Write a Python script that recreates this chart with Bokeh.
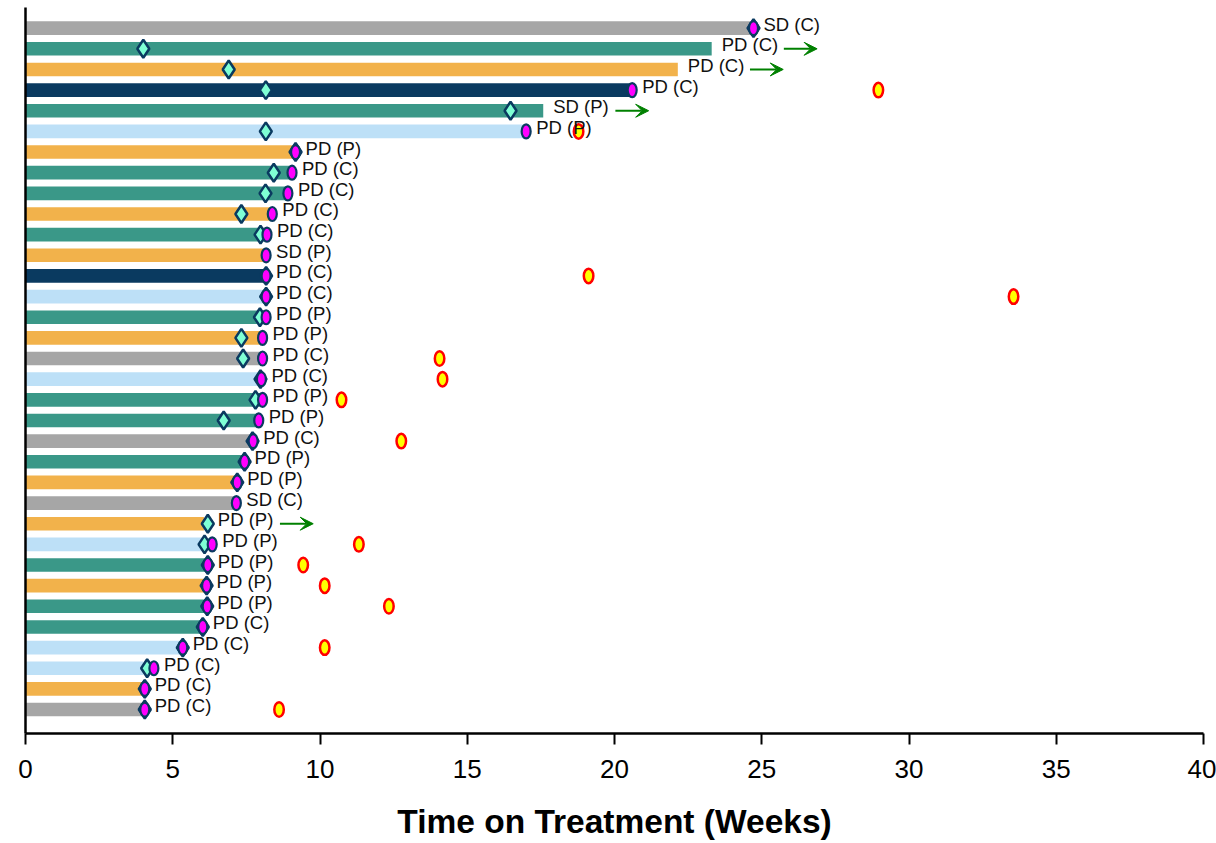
from bokeh.plotting import figure
from bokeh.models import ColumnDataSource, Range1d, Arrow, VeeHead, FixedTicker
from bokeh.core.properties import value
from bokeh.embed import file_html
from bokeh.resources import INLINE

# Swimmer data, one entry per patient, listed top to bottom
cohort = ["G", "T", "O", "N", "T", "L", "O", "T", "T", "O", "T", "O", "N", "L", "T", "O", "G",
          "L", "T", "T", "G", "T", "O", "G", "O", "L", "T", "O", "T", "T", "L", "L", "O", "G"]
weeks_on_treatment = [24.6, 23.3, 22.15, 20.55, 17.58, 16.95, 9.05, 8.95, 8.85, 8.3, 8.1, 8.08,
                      8.1, 8.1, 8.1, 8.0, 8.0, 7.95, 8.0, 7.85, 7.65, 7.35, 7.15, 7.1, 6.06, 6.1,
                      6.15, 6.1, 6.1, 5.95, 5.27, 4.0, 4.0, 3.97]
first_assessment = [24.72, 4.0, 6.9, 8.16, 16.47, 8.16, 9.17, 8.43, 8.15, 7.33, 7.98, None,
                    8.17, 8.17, 7.96, 7.33, 7.39, 7.98, 7.81, 6.73, 7.71, 7.44, 7.19, None, 6.19,
                    6.08, 6.19, 6.15, 6.17, 6.02, 5.34, 4.13, 4.05, 4.05]
discontinuation = [24.72, None, None, 20.6, None, 17.0, 9.17, 9.05, 8.91, 8.38, 8.2, 8.17,
                   8.17, 8.17, 8.17, 8.05, 8.05, 8.01, 8.05, 7.92, 7.73, 7.44, 7.19, 7.16, None,
                   6.34, 6.19, 6.15, 6.17, 6.02, 5.34, 4.36, 4.05, 4.05]
followup_event = [None, None, None, 28.96, None, 18.78, None, None, None, None, None, None,
                  19.12, 33.55, None, None, 14.06, 14.16, 10.73, None, 12.76, None, None, None,
                  None, 11.32, 9.43, 10.16, 12.34, None, 10.16, None, None, 8.61]
best_response = ["SD (C)", "PD (C)", "PD (C)", "PD (C)", "SD (P)", "PD (P)", "PD (P)", "PD (C)",
                 "PD (C)", "PD (C)", "PD (C)", "SD (P)", "PD (C)", "PD (C)", "PD (P)", "PD (P)",
                 "PD (C)", "PD (C)", "PD (P)", "PD (P)", "PD (C)", "PD (P)", "PD (P)", "SD (C)",
                 "PD (P)", "PD (P)", "PD (P)", "PD (P)", "PD (P)", "PD (C)", "PD (C)", "PD (C)",
                 "PD (C)", "PD (C)"]
ongoing = [False, True, True, False, True, False, False, False, False, False, False, False,
           False, False, False, False, False, False, False, False, False, False, False, False,
           True, False, False, False, False, False, False, False, False, False]
x_ticks = [0, 5, 10, 15, 20, 25, 30, 35, 40]

palette = {"G": "#a6a6a6", "T": "#3a9888", "O": "#f2b24b", "N": "#0a3a60", "L": "#bde0f7"}

n = len(cohort)
ys = [n - i for i in range(n)]

p = figure(width=1216, height=843, x_range=Range1d(0, 40), y_range=Range1d(-0.16, 35),
           output_backend="svg", toolbar_location=None,
           min_border_left=25, min_border_right=13, min_border_top=7, min_border_bottom=110)
p.outline_line_color = None
p.xgrid.visible = False
p.ygrid.visible = False
p.background_fill_color = "white"
p.border_fill_color = "white"

# Treatment duration bars
bars = ColumnDataSource(dict(y=ys, right=weeks_on_treatment,
                             color=[palette[c] for c in cohort]))
p.hbar(y="y", left=0, right="right", height=0.66, fill_color="color", line_color=None,
       source=bars)

# First response assessment (diamonds)
dia = ColumnDataSource(dict(x=[v for v in first_assessment if v is not None],
                            y=[y for v, y in zip(first_assessment, ys) if v is not None]))
p.scatter("x", "y", marker="diamond", size=18, fill_color="#7fffd4", line_color="#0a3a60",
          line_width=2.5, source=dia)

# Treatment discontinuation (magenta ovals)
disc = ColumnDataSource(dict(x=[v for v in discontinuation if v is not None],
                             y=[y for v, y in zip(discontinuation, ys) if v is not None]))
p.ellipse("x", "y", width=9, height=14, width_units="screen", height_units="screen",
          fill_color="#ff00ff", line_color="#0a3a60", line_width=2.2, source=disc)

# Follow-up events (yellow ovals)
fu = ColumnDataSource(dict(x=[v for v in followup_event if v is not None],
                           y=[y for v, y in zip(followup_event, ys) if v is not None]))
p.ellipse("x", "y", width=9.5, height=14.5, width_units="screen", height_units="screen",
          fill_color="#ffff00", line_color="#ff0000", line_width=2.5, source=fu)

# Best response labels, placed just right of each bar's last mark
anchor = []
for w, d, c in zip(weeks_on_treatment, first_assessment, discontinuation):
    anchor.append(max(v for v in (w, d, c) if v is not None))
lab = ColumnDataSource(dict(x=anchor, y=ys, text=best_response))
p.text("x", "y", text="text", source=lab, x_offset=10, y_offset=-4, text_baseline="middle",
       text_align="left", text_font=value("Liberation Sans"), text_font_size="18.5px",
       text_color="#111111")

# Ongoing-treatment arrows after the label
arr = ColumnDataSource(dict(
    x0=[a + 2.45 for a, o in zip(anchor, ongoing) if o],
    x1=[a + 3.58 for a, o in zip(anchor, ongoing) if o],
    y=[y for y, o in zip(ys, ongoing) if o],
))
p.add_layout(Arrow(end=VeeHead(size=13, fill_color="#008000", line_color="#008000",
                               line_width=1),
                   x_start="x0", y_start="y", x_end="x1", y_end="y",
                   line_color="#008000", line_width=2, source=arr))

# Axes
p.xaxis.ticker = FixedTicker(ticks=x_ticks)
p.xaxis.minor_tick_line_color = None
p.xaxis.major_tick_out = 11
p.xaxis.major_tick_in = 0
p.xaxis.major_tick_line_width = 2
p.xaxis.major_tick_line_color = "black"
p.xaxis.axis_line_width = 2.5
p.xaxis.axis_line_color = "black"
p.xaxis.major_label_text_font = "Liberation Sans"
p.xaxis.major_label_text_font_size = "26px"
p.xaxis.major_label_text_color = "black"
p.xaxis.major_label_standoff = 15
p.xaxis.axis_label = "Time on Treatment (Weeks)"
p.xaxis.axis_label_text_font = "Liberation Sans"
p.xaxis.axis_label_text_font_size = "33.5px"
p.xaxis.axis_label_text_font_style = "bold"
p.xaxis.axis_label_text_color = "black"
p.xaxis.axis_label_standoff = 22

p.yaxis.ticker = FixedTicker(ticks=[])
p.yaxis.minor_tick_line_color = None
p.yaxis.major_tick_line_color = None
p.yaxis.major_label_text_font_size = "0px"
p.yaxis.axis_line_width = 2.5
p.yaxis.axis_line_color = "black"

open("out.html", "w").write(file_html(p, INLINE))
